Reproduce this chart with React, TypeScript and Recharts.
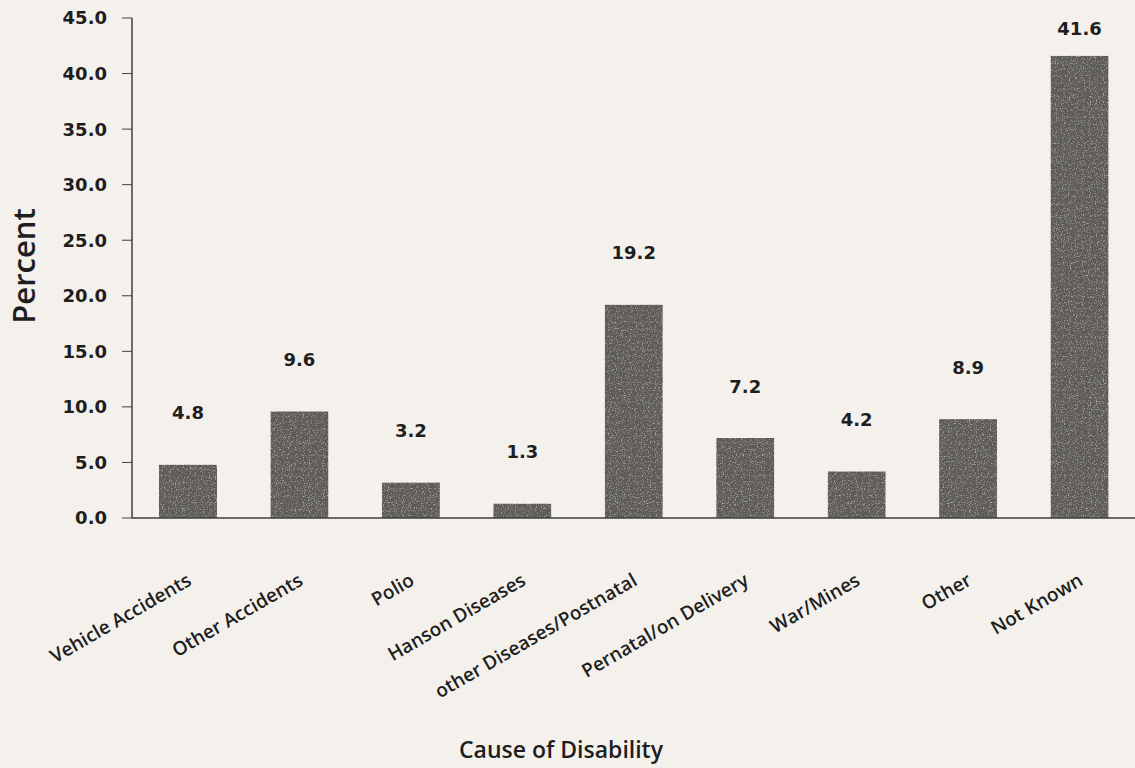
import React from 'react';
import { BarChart, Bar, XAxis, YAxis, LabelList } from 'recharts';

const categories = [
  'Vehicle Accidents',
  'Other Accidents',
  'Polio',
  'Hanson Diseases',
  'other Diseases/Postnatal',
  'Pernatal/on Delivery',
  'War/Mines',
  'Other',
  'Not Known',
];
const percents = [4.8, 9.6, 3.2, 1.3, 19.2, 7.2, 4.2, 8.9, 41.6];
const yTicks = [0, 5, 10, 15, 20, 25, 30, 35, 40, 45];
const yAxisTitle = 'Percent';
const xAxisTitle = 'Cause of Disability';

const data = categories.map((c, i) => ({ cause: c, pct: percents[i] }));

const INK = '#1e1e1e';

const CatTick = (props: any) => {
  const { x, y, payload } = props;
  return (
    <g transform={`translate(${x + 5},${y + 66})`}>
      <text
        textAnchor="end"
        transform="rotate(-30)"
        fontFamily="'Open Sans', sans-serif"
        fontWeight={600}
        fontSize={19}
        fill={INK}
      >
        {payload.value}
      </text>
    </g>
  );
};

const ValueLabel = (props: any) => {
  const { x, y, width, value } = props;
  const cy = Math.max(Number(y) - 52, 28);
  return (
    <text
      x={Number(x) + Number(width) / 2}
      y={cy}
      textAnchor="middle"
      dominantBaseline="central"
      fontFamily="'DejaVu Sans', sans-serif"
      fontWeight="bold"
      fontSize={18}
      fill={INK}
    >
      {Number(value).toFixed(1)}
    </text>
  );
};

const GrainBar = (props: any) => {
  const { x, y, width, height, fill } = props;
  if (!height || height <= 0) return null;
  return (
    <rect x={x} y={y} width={width} height={height} fill={fill} filter="url(#grain)" />
  );
};

export default function App() {
  return (
    <div
      style={{
        position: 'absolute',
        left: 0,
        top: 0,
        width: 1135,
        height: 768,
        background: '#f4f1ec',
        overflow: 'hidden',
      }}
    >
      <BarChart
        width={1135}
        height={768}
        data={data}
        margin={{ top: 18, right: 0, left: 0, bottom: 0 }}
        barCategoryGap="48%"
      >
        <defs>
          <filter id="grain" x="0" y="0" width="100%" height="100%">
            <feTurbulence type="fractalNoise" baseFrequency="0.85" numOctaves="2" seed="7" result="noise" />
            <feColorMatrix
              in="noise"
              type="matrix"
              values="0 0 0 0 0.12  0 0 0 0 0.12  0 0 0 0 0.11  0 0 0 2.2 -0.9"
              result="dark"
            />
            <feColorMatrix
              in="noise"
              type="matrix"
              values="0 0 0 0 0.62  0 0 0 0 0.61  0 0 0 0 0.59  0 0 0 -2.2 1.0"
              result="light"
            />
            <feMerge result="tex">
              <feMergeNode in="SourceGraphic" />
              <feMergeNode in="dark" />
              <feMergeNode in="light" />
            </feMerge>
            <feComposite in="tex" in2="SourceGraphic" operator="in" />
          </filter>
        </defs>
        <XAxis
          dataKey="cause"
          interval={0}
          height={250}
          tickLine={false}
          tickSize={0}
          tickMargin={0}
          axisLine={{ stroke: '#3e3e3e', strokeWidth: 1.5 }}
          tick={<CatTick />}
          label={{
            content: () => (
              <text
                x={561}
                y={758}
                textAnchor="middle"
                fontFamily="'Open Sans', sans-serif"
                fontWeight={600}
                fontSize={23}
                fill={INK}
              >
                {xAxisTitle}
              </text>
            ),
          }}
        />
        <YAxis
          width={132}
          domain={[0, 45]}
          ticks={yTicks}
          interval={0}
          tickFormatter={(v: number) => v.toFixed(1)}
          tickSize={10}
          tickMargin={15}
          tickLine={{ stroke: '#3e3e3e' }}
          axisLine={{ stroke: '#3e3e3e', strokeWidth: 1.5 }}
          tick={{
            fontFamily: "'DejaVu Sans', sans-serif",
            fontWeight: 'bold',
            fontSize: 18,
            fill: INK,
          }}
          label={{
            content: () => (
              <text
                x={23}
                y={266}
                textAnchor="middle"
                dominantBaseline="central"
                transform="rotate(-90, 23, 266)"
                fontFamily="'Open Sans', sans-serif"
                fontWeight={600}
                fontSize={31}
                fill={INK}
              >
                {yAxisTitle}
              </text>
            ),
          }}
        />
        <Bar
          dataKey="pct"
          fill="#5c5956"
          barSize={58}
          isAnimationActive={false}
          shape={<GrainBar />}
        >
          <LabelList dataKey="pct" content={<ValueLabel />} />
        </Bar>
      </BarChart>
    </div>
  );
}
